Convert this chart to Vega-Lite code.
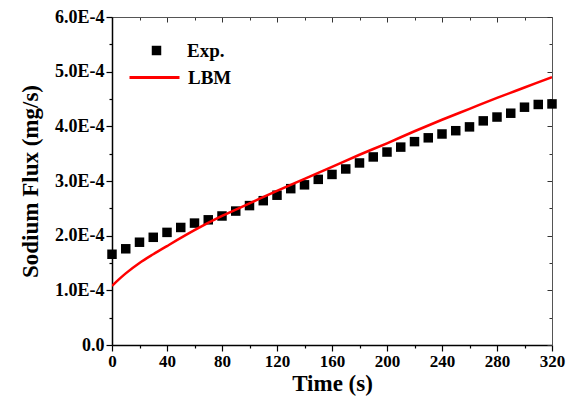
{
  "$schema": "https://vega.github.io/schema/vega-lite/v6.json",
  "width": 440,
  "height": 328,
  "autosize": {"type": "none"},
  "padding": {"left": 112, "top": 17, "right": 18, "bottom": 60},
  "background": "white",
  "config": {"view": {"stroke": null}, "font": "Liberation Serif"},
  "datasets": {
    "exp": [
      {"series": "Exp.", "time": 0, "flux": 0.000166},
      {"series": "Exp.", "time": 10, "flux": 0.000176},
      {"series": "Exp.", "time": 20, "flux": 0.000188},
      {"series": "Exp.", "time": 30, "flux": 0.000197},
      {"series": "Exp.", "time": 40, "flux": 0.000206},
      {"series": "Exp.", "time": 50, "flux": 0.000215},
      {"series": "Exp.", "time": 60, "flux": 0.000223},
      {"series": "Exp.", "time": 70, "flux": 0.000229},
      {"series": "Exp.", "time": 80, "flux": 0.000236},
      {"series": "Exp.", "time": 90, "flux": 0.000245},
      {"series": "Exp.", "time": 100, "flux": 0.000255},
      {"series": "Exp.", "time": 110, "flux": 0.000264},
      {"series": "Exp.", "time": 120, "flux": 0.000274},
      {"series": "Exp.", "time": 130, "flux": 0.000286},
      {"series": "Exp.", "time": 140, "flux": 0.000293},
      {"series": "Exp.", "time": 150, "flux": 0.000303},
      {"series": "Exp.", "time": 160, "flux": 0.000312},
      {"series": "Exp.", "time": 170, "flux": 0.000322},
      {"series": "Exp.", "time": 180, "flux": 0.000333},
      {"series": "Exp.", "time": 190, "flux": 0.000344},
      {"series": "Exp.", "time": 200, "flux": 0.000353},
      {"series": "Exp.", "time": 210, "flux": 0.000362},
      {"series": "Exp.", "time": 220, "flux": 0.000372},
      {"series": "Exp.", "time": 230, "flux": 0.000379},
      {"series": "Exp.", "time": 240, "flux": 0.000386},
      {"series": "Exp.", "time": 250, "flux": 0.000392},
      {"series": "Exp.", "time": 260, "flux": 0.000399},
      {"series": "Exp.", "time": 270, "flux": 0.000410},
      {"series": "Exp.", "time": 280, "flux": 0.000417},
      {"series": "Exp.", "time": 290, "flux": 0.000424},
      {"series": "Exp.", "time": 300, "flux": 0.000435},
      {"series": "Exp.", "time": 310, "flux": 0.000440},
      {"series": "Exp.", "time": 320, "flux": 0.000441}
    ],
    "lbm": [
      {"series": "LBM", "time": 0, "flux": 0.000108},
      {"series": "LBM", "time": 5, "flux": 0.000120},
      {"series": "LBM", "time": 10, "flux": 0.000131},
      {"series": "LBM", "time": 20, "flux": 0.000150},
      {"series": "LBM", "time": 30, "flux": 0.000166},
      {"series": "LBM", "time": 40, "flux": 0.000181},
      {"series": "LBM", "time": 60, "flux": 0.000210},
      {"series": "LBM", "time": 80, "flux": 0.000236},
      {"series": "LBM", "time": 100, "flux": 0.000259},
      {"series": "LBM", "time": 120, "flux": 0.000282},
      {"series": "LBM", "time": 140, "flux": 0.000304},
      {"series": "LBM", "time": 160, "flux": 0.000326},
      {"series": "LBM", "time": 180, "flux": 0.000348},
      {"series": "LBM", "time": 200, "flux": 0.000369},
      {"series": "LBM", "time": 220, "flux": 0.000391},
      {"series": "LBM", "time": 240, "flux": 0.000412},
      {"series": "LBM", "time": 260, "flux": 0.000432},
      {"series": "LBM", "time": 280, "flux": 0.000452},
      {"series": "LBM", "time": 300, "flux": 0.000471},
      {"series": "LBM", "time": 320, "flux": 0.000490}
    ]
  },
  "layer": [
    {
      "data": {"name": "exp"},
      "mark": {"type": "point", "shape": "square", "filled": true, "size": 90, "opacity": 1},
      "encoding": {
        "x": {
          "field": "time", "type": "quantitative",
          "scale": {"domain": [0, 320], "nice": false, "zero": false},
          "axis": {
            "orient": "bottom",
            "values": [0, 20, 40, 60, 80, 100, 120, 140, 160, 180, 200, 220, 240, 260, 280, 300, 320],
            "labelExpr": "datum.value % 40 == 0 ? datum.label : ''",
            "labelOverlap": false, "labelFlush": false,
            "labelFont": "Liberation Serif", "labelFontWeight": "bold", "labelFontSize": 17, "labelColor": "black",
            "labelPadding": 2,
            "tickSize": {"condition": {"test": "datum.value % 40 == 0", "value": 6}, "value": 3},
            "tickColor": "black", "tickWidth": 1.2,
            "domainColor": "black", "domainWidth": 1.5,
            "grid": false,
            "title": "Time (s)",
            "titleFont": "Liberation Serif", "titleFontWeight": "bold", "titleFontSize": 23, "titleColor": "black",
            "titlePadding": 3
          }
        },
        "y": {
          "field": "flux", "type": "quantitative",
          "scale": {"domain": [0, 0.0006], "nice": false, "zero": false},
          "axis": {
            "orient": "left",
            "values": [0, 0.00005, 0.0001, 0.00015, 0.0002, 0.00025, 0.0003, 0.00035, 0.0004, 0.00045, 0.0005, 0.00055, 0.0006],
            "labelExpr": "round(datum.value * 20000) % 2 == 1 ? '' : (datum.value == 0 ? '0.0' : format(datum.value * 10000, '.1f') + 'E-4')",
            "labelOverlap": false, "labelFlush": false,
            "labelFont": "Liberation Serif", "labelFontWeight": "bold", "labelFontSize": 18, "labelColor": "black",
            "labelPadding": 2,
            "tickSize": {"condition": {"test": "round(datum.value * 20000) % 2 == 0", "value": 6}, "value": 3},
            "tickColor": "black", "tickWidth": 1.2,
            "domainColor": "black", "domainWidth": 1.5,
            "grid": false,
            "title": "Sodium Flux (mg/s)",
            "titleFont": "Liberation Serif", "titleFontWeight": "bold", "titleFontSize": 23, "titleColor": "black",
            "titlePadding": 12
          }
        },
        "fill": {
          "field": "series", "type": "nominal",
          "scale": {"range": ["black"]},
          "legend": {
            "orient": "none", "legendX": 35, "legendY": 24, "title": null,
            "padding": 0, "symbolType": "square", "symbolSize": 90, "symbolStrokeWidth": 0,
            "labelOffset": 21, "labelFont": "Liberation Serif", "labelFontWeight": "bold", "labelFontSize": 19, "labelColor": "black"
          }
        }
      }
    },
    {
      "data": {"name": "lbm"},
      "mark": {"type": "line", "strokeWidth": 2.5, "clip": true, "interpolate": "monotone"},
      "encoding": {
        "x": {
          "field": "time", "type": "quantitative",
          "axis": {
            "orient": "top",
            "values": [0, 20, 40, 60, 80, 100, 120, 140, 160, 180, 200, 220, 240, 260, 280, 300, 320],
            "labels": false,
            "tickSize": {"condition": {"test": "datum.value % 40 == 0", "value": -5}, "value": -3},
            "tickColor": "#333", "tickWidth": 1,
            "domainColor": "#555", "domainWidth": 1,
            "grid": false, "title": null
          }
        },
        "y": {
          "field": "flux", "type": "quantitative",
          "axis": {
            "orient": "right",
            "values": [0, 0.00005, 0.0001, 0.00015, 0.0002, 0.00025, 0.0003, 0.00035, 0.0004, 0.00045, 0.0005, 0.00055, 0.0006],
            "labels": false,
            "tickSize": {"condition": {"test": "round(datum.value * 20000) % 2 == 0", "value": -5}, "value": -3},
            "tickColor": "#333", "tickWidth": 1,
            "domainColor": "#555", "domainWidth": 1,
            "grid": false, "title": null
          }
        },
        "stroke": {
          "field": "series", "type": "nominal",
          "scale": {"range": ["#ff0000"]},
          "legend": {
            "orient": "none", "legendX": 16, "legendY": 34, "title": null,
            "padding": 0, "symbolType": "stroke", "symbolSize": 2500, "symbolStrokeWidth": 3,
            "labelOffset": 7, "labelFont": "Liberation Serif", "labelFontWeight": "bold", "labelFontSize": 19, "labelColor": "black"
          }
        }
      }
    }
  ]
}
